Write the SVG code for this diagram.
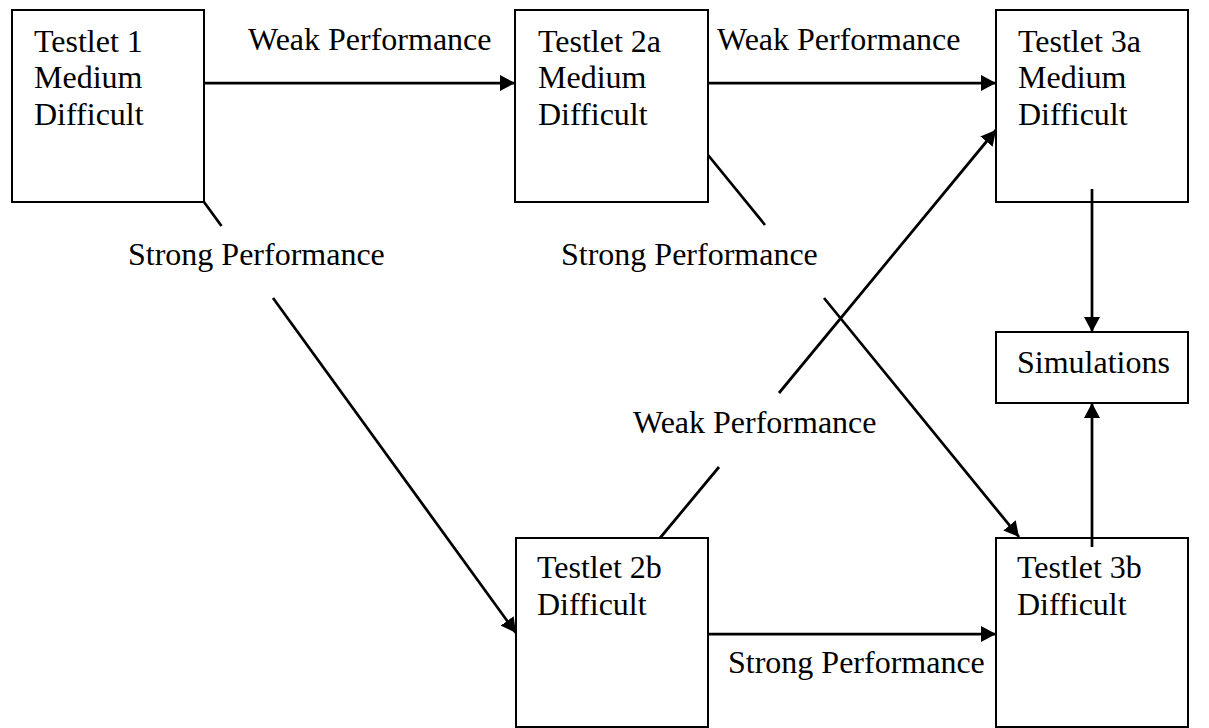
<svg xmlns="http://www.w3.org/2000/svg" width="1209" height="728" viewBox="0 0 1209 728">
<style>
.box{fill:#fff;stroke:#000;stroke-width:2}
.t{font-family:"Liberation Serif","Times New Roman",serif;font-size:32px;fill:#000}
.c{fill:none;stroke:#000;stroke-width:2.75}
</style>
<defs>
<marker id="ah" markerUnits="userSpaceOnUse" markerWidth="16" markerHeight="16" refX="15" refY="8" orient="auto">
<path d="M0,0 L15,8 L0,16 z" fill="#000"/>
</marker>
</defs>
<rect width="1209" height="728" fill="#fff"/>
<g id="t1"><rect class="box" x="12" y="10" width="192" height="192"/>
<text class="t" x="34" y="52">Testlet 1</text><text class="t" x="34" y="88">Medium</text><text class="t" x="34" y="125">Difficult</text></g>
<g id="t2a"><rect class="box" x="515" y="10" width="193" height="192"/>
<text class="t" x="538" y="52">Testlet 2a</text><text class="t" x="538" y="88">Medium</text><text class="t" x="538" y="125">Difficult</text></g>
<g id="t3a"><rect class="box" x="996" y="10" width="192" height="192"/>
<text class="t" x="1018" y="52">Testlet 3a</text><text class="t" x="1018" y="88">Medium</text><text class="t" x="1018" y="125">Difficult</text></g>
<g id="sim"><rect class="box" x="996" y="332" width="192" height="71"/>
<text class="t" x="1017" y="373">Simulations</text></g>
<g id="t2b"><rect class="box" x="516" y="538" width="192" height="189"/>
<text class="t" x="537" y="578">Testlet 2b</text><text class="t" x="537" y="615">Difficult</text></g>
<g id="t3b"><rect class="box" x="996" y="538" width="192" height="189"/>
<text class="t" x="1017" y="578">Testlet 3b</text><text class="t" x="1017" y="615">Difficult</text></g>
<g id="connectors">
<path class="c" d="M204 83 H515" marker-end="url(#ah)"/>
<path class="c" d="M708 83 H996" marker-end="url(#ah)"/>
<path class="c" d="M1092 189 V332" marker-end="url(#ah)"/>
<path class="c" d="M1092 547 V403" marker-end="url(#ah)"/>
<path class="c" d="M708 634 H996" marker-end="url(#ah)"/>
<path class="c" d="M204 202 L221.5 226 M273 298 L516 633" marker-end="url(#ah)"/>
<path class="c" d="M708 155 L765 225 M824 298 L1019 537" marker-end="url(#ah)"/>
<path class="c" d="M660 538 L719 467 M779 393 L996 130" marker-end="url(#ah)"/>
</g>
<g id="labels">
<text class="t" x="248" y="50">Weak Performance</text>
<text class="t" x="717" y="50">Weak Performance</text>
<text class="t" x="128" y="265">Strong Performance</text>
<text class="t" x="561" y="265">Strong Performance</text>
<text class="t" x="633" y="433">Weak Performance</text>
<text class="t" x="728" y="673">Strong Performance</text>
</g>
</svg>
